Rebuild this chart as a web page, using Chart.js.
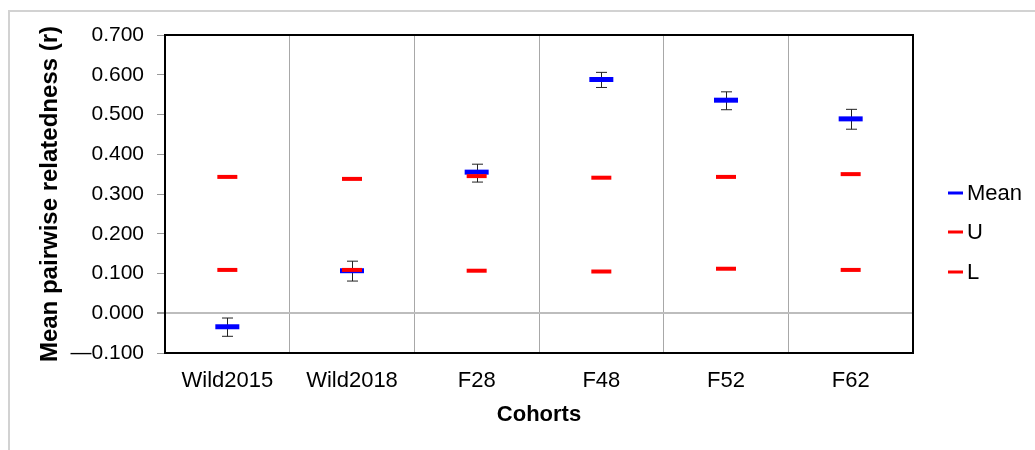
<!DOCTYPE html>
<html>
<head>
<meta charset="utf-8">
<script src="https://cdn.jsdelivr.net/npm/chart.js@4"></script>
<style>
  html, body { margin: 0; padding: 0; background: #fff; overflow: hidden; }
  #frame { position: absolute; left: 8px; top: 10px; width: 1100px; height: 500px;
           border-left: 2px solid #d2d2d2; border-top: 2px solid #d2d2d2; }
  #wrap { position: absolute; left: 0; top: 0; width: 1035px; height: 450px; }
</style>
</head>
<body>
<div id="frame"></div>
<div id="wrap"><canvas id="chart"></canvas></div>
<script>
const cohorts = ['Wild2015', 'Wild2018', 'F28', 'F48', 'F52', 'F62'];
const meanR = [-0.034, 0.107, 0.355, 0.588, 0.536, 0.489];
const meanLow = [-0.058, 0.081, 0.330, 0.568, 0.512, 0.463];
const meanHigh = [-0.012, 0.131, 0.375, 0.606, 0.557, 0.513];
const upperR = [0.343, 0.338, 0.345, 0.341, 0.343, 0.350];
const lowerR = [0.109, 0.109, 0.107, 0.105, 0.112, 0.109];

const BLUE = '#0000ff';
const RED = '#ff0000';

// error bars behind the mean markers
const errorBars = {
  id: 'errorBars',
  beforeDatasetsDraw(chart) {
    const { ctx, scales: { x, y } } = chart;
    ctx.save();
    ctx.strokeStyle = '#222';
    ctx.lineWidth = 1;
    meanR.forEach((v, i) => {
      const px = Math.round(x.getPixelForValue(i)) + 0.5;
      const top = y.getPixelForValue(meanHigh[i]);
      const bot = y.getPixelForValue(meanLow[i]);
      ctx.beginPath();
      ctx.moveTo(px, top); ctx.lineTo(px, bot);
      ctx.moveTo(px - 5.5, top); ctx.lineTo(px + 5.5, top);
      ctx.moveTo(px - 5.5, bot); ctx.lineTo(px + 5.5, bot);
      ctx.stroke();
    });
    ctx.restore();
  }
};

// black box round the plot and the legend on the right
const frameAndLegend = {
  id: 'frameAndLegend',
  afterDraw(chart) {
    const { ctx, chartArea: a } = chart;
    ctx.save();
    ctx.strokeStyle = '#000';
    ctx.lineWidth = 2;
    ctx.strokeRect(a.left, a.top, a.right - a.left, a.bottom - a.top);

    const items = chart.data.datasets.map(d => ({ text: d.label, color: d.borderColor }));
    const ys = [193, 232, 272];
    ctx.font = '22px "Liberation Sans", Arial, sans-serif';
    ctx.textBaseline = 'middle';
    ctx.fillStyle = '#000';
    items.forEach((it, i) => {
      ctx.strokeStyle = it.color;
      ctx.lineWidth = 3;
      ctx.beginPath();
      ctx.moveTo(948, ys[i]); ctx.lineTo(963, ys[i]);
      ctx.stroke();
      ctx.fillText(it.text, 967, ys[i] + 1);
    });
    ctx.restore();
  }
};

new Chart(document.getElementById('chart'), {
  type: 'line',
  data: {
    labels: cohorts,
    datasets: [
      { label: 'Mean', data: meanR, borderColor: BLUE, backgroundColor: BLUE, showLine: false,
        pointStyle: 'line', pointRadius: 12, pointHoverRadius: 12, pointBorderWidth: 5, pointHoverBorderWidth: 5, order: 3 },
      { label: 'U', data: upperR, borderColor: RED, backgroundColor: RED, showLine: false,
        pointStyle: 'line', pointRadius: 10, pointHoverRadius: 10, pointBorderWidth: 4, pointHoverBorderWidth: 4, order: 2 },
      { label: 'L', data: lowerR, borderColor: RED, backgroundColor: RED, showLine: false,
        pointStyle: 'line', pointRadius: 10, pointHoverRadius: 10, pointBorderWidth: 4, pointHoverBorderWidth: 4, order: 1 }
    ]
  },
  options: {
    responsive: true,
    maintainAspectRatio: false,
    animation: false,
    layout: { padding: { left: 0, top: 35, right: 122, bottom: 18 } },
    plugins: {
      legend: { display: false },
      tooltip: { enabled: false }
    },
    scales: {
      x: {
        offset: true,
        grid: { offset: true, color: '#a8a8a8', lineWidth: 1, drawTicks: false },
        border: { display: false },
        ticks: {
          color: '#000',
          padding: 15,
          font: { family: '"Liberation Sans", Arial', size: 22 }
        },
        title: {
          display: true,
          text: 'Cohorts',
          color: '#000',
          padding: { top: 4, bottom: 4 },
          font: { family: '"Liberation Sans", Arial', size: 22, weight: 'bold' }
        },
        afterFit(scale) { scale.height = 79; }
      },
      y: {
        min: -0.1,
        max: 0.7,
        border: { display: false },
        grid: {
          color: c => (c.tick && Math.abs(c.tick.value) < 1e-9) ? '#bdbdbd' : 'rgba(0,0,0,0)',
          lineWidth: c => (c.tick && Math.abs(c.tick.value) < 1e-9) ? 2 : 1,
          tickColor: '#9a9a9a',
          tickLength: 8
        },
        ticks: {
          stepSize: 0.1,
          color: '#000',
          padding: 13,
          font: { family: '"Liberation Sans", Arial', size: 21 },
          callback: v => (v < -1e-9 ? '\u2014' + Math.abs(v).toFixed(3) : Math.abs(v).toFixed(3))
        },
        title: {
          display: true,
          text: 'Mean pairwise relatedness (r)',
          color: '#000',
          padding: { top: 36, bottom: 4 },
          font: { family: '"Liberation Sans", Arial', size: 24, weight: 'bold' }
        },
        afterFit(scale) { scale.width = 165; }
      }
    }
  },
  plugins: [errorBars, frameAndLegend]
});
</script>
</body>
</html>
